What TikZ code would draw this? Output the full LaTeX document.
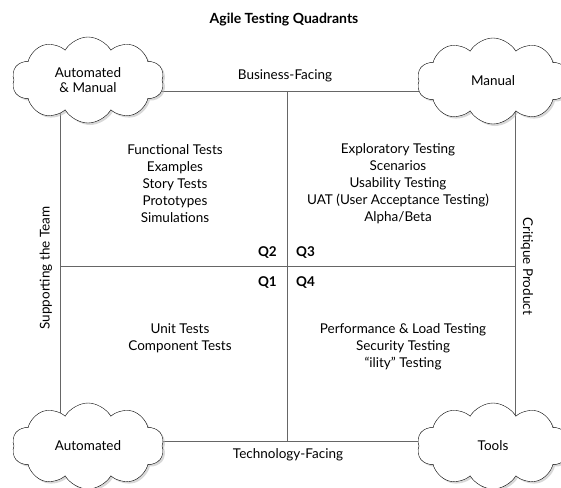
\documentclass[tikz,border=0pt]{standalone}
\usepackage{fontspec}
\setmainfont{Lato}
\usetikzlibrary{positioning,calc,shapes.symbols,shadows}

\tikzset{
    cloudbox/.style={cloud, cloud puffs=10, cloud puff arc=120, cloud ignores aspect,
        minimum width=152pt, minimum height=86pt, inner sep=0pt, draw=black, thin,
        fill=white, drop shadow={shadow xshift=2pt, shadow yshift=-2pt, fill=gray!60},
        align=center, font=\fontsize{13.5}{15}\selectfont},
    frameline/.style={draw=black!60, line width=.8pt},
    quadtext/.style={align=center, font=\fontsize{13.5}{17}\selectfont},
    qlabel/.style={font=\bfseries\fontsize{13.5}{15}\selectfont, inner sep=0pt},
    sidetext/.style={font=\fontsize{13.5}{15}\selectfont}
}

\begin{document}
\begin{tikzpicture}[x=1pt,y=-1pt]
            \useasboundingbox (0,0) rectangle (561,487);

            % frame and axes
            \coordinate (nw) at (60,91);
            \coordinate (se) at (515,441);
            \coordinate (top) at (287,91);
            \coordinate (bot) at (287,441);
            \coordinate (lft) at (60,266);
            \coordinate (rgt) at (515,266);

            \draw[frameline] (nw) rectangle (se);
            \draw[frameline] (top) -- (bot);
            \draw[frameline] (lft) -- (rgt);

            % corner clouds
            \node[cloudbox] (automan) at (88,80) {Automated\\\& Manual};
            \node[cloudbox] (manual) at (493,81) {Manual};
            \node[cloudbox] (auto) at (88,446) {Automated};
            \node[cloudbox] (tools) at (493,446) {Tools};

            \node[font=\bfseries\fontsize{14}{16}\selectfont] (title) at (284,20) {Agile Testing Quadrants};
            \node[sidetext] (business) at (285,76) {Business-Facing};
            \node[sidetext] (technology) at (288,455) {Technology-Facing};
            \node[sidetext, rotate=90] (support) at (46,268) {Supporting the Team};
            \node[sidetext, rotate=-90] (critique) at (527,266) {Critique Product};

            % quadrants
            \node[quadtext] (q2text) at (175,184) {Functional Tests\\Examples\\Story Tests\\Prototypes\\Simulations};
            \node[quadtext] (q3text) at (398,184) {Exploratory Testing\\Scenarios\\Usability Testing\\UAT (User Acceptance Testing)\\Alpha/Beta};
            \node[quadtext] (q1text) at (180,338) {Unit Tests\\Component Tests};
            \node[quadtext] (q4text) at (403,347) {Performance \& Load Testing\\Security Testing\\“ility” Testing};

            \node[qlabel, anchor=east] (q2) at (277,253) {Q2};
            \node[qlabel, anchor=west] (q3) at (296,253) {Q3};
            \node[qlabel, anchor=east] (q1) at (277,283) {Q1};
            \node[qlabel, anchor=west] (q4) at (296,283) {Q4};
        \end{tikzpicture}
\end{document}
